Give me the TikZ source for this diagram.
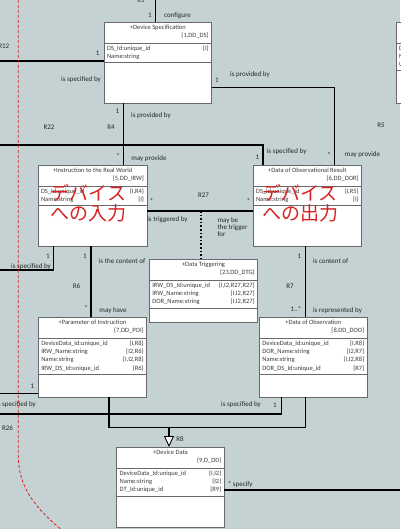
\documentclass[tikz,border=0pt]{standalone}
\usepackage{fontspec}
\setmainfont{Carlito}
\newfontfamily\jpfont{Noto Sans CJK JP}
\usetikzlibrary{calc,arrows.meta}
\definecolor{canvas}{RGB}{196,210,212}
\definecolor{boxline}{RGB}{105,105,105}
\definecolor{boxtext}{RGB}{60,60,60}
\definecolor{notered}{RGB}{215,35,35}
\newcommand{\ClassBox}[8]% #1=name, #2,#3=top left, #4=width, #5=height, #6=title, #7=id, #8=number of attributes
{\node[classbox, minimum width=#4pt, minimum height=#5pt] (#1) at (#2,#3) {};
    \node[boxfont] (#1-title) at ($(#1.north)+(0,6.3)$) {#6};
    \node[boxfont, anchor=east] (#1-id) at ($(#1.north east)+(-2.2,14.3)$) {#7};
    \draw[sepline] ($(#1.north west)+(0,21)$) -- ($(#1.north east)+(0,21)$);
    \draw[sepline] ($(#1.north west)+(0,24+#8*8.3)$) -- ($(#1.north east)+(0,24+#8*8.3)$);
}
\newcommand{\Attr}[4]% #1=box, #2=row, #3=attribute, #4=reference
{\node[boxfont, anchor=west] (#1-a#2) at ($(#1.north west)+(2.2,18.4+#2*8.3)$) {#3};
    \node[boxfont, anchor=east] (#1-r#2) at ($(#1.north east)+(-2.2,18.4+#2*8.3)$) {#4};
}
\begin{document}
\begin{tikzpicture}[x=1pt, y=-1pt, line width=1.6pt,
    classbox/.style={draw=boxline, line width=0.8pt, fill=white, anchor=north west, inner sep=0pt, outer sep=0pt},
    boxfont/.style={font=\fontsize{6.5}{7}\selectfont, text=boxtext, inner sep=0pt, text height=4.6pt, text depth=1.4pt},
    sepline/.style={draw=boxline, line width=0.8pt},
    lbl/.style={font=\fontsize{7}{7.3}\selectfont, text=black!85, inner sep=0pt},
    gentip/.style={-{Triangle[length=11pt, width=10pt, fill=white, line width=0.9pt]}},
    jpnote/.style={font=\jpfont\fontsize{19}{20}\selectfont, text=notered, align=center, inner sep=0pt},
    guide/.style={draw=notered, line width=0.8pt, dash pattern=on 3pt off 2pt}]
  \useasboundingbox (0,0) rectangle (400,529);
  \fill[canvas] (0,0) rectangle (400,529);
  % classes
  \ClassBox{dspec}{104}{22}{107.7}{81.3}{+Device Specification}{\{1,DD\_DS\}}{2}
  \Attr{dspec}{1}{DS\_Id:unique\_id}{\{I\}}
  \Attr{dspec}{2}{Name:string}{}
  \ClassBox{irw}{38}{165}{109}{81}{+Instruction to the Real World}{\{5,DD\_IRW\}}{2}
  \Attr{irw}{1}{DS\_Id:unique\_id}{\{I,R4\}}
  \Attr{irw}{2}{Name:string}{\{I\}}
  \ClassBox{dor}{253}{165}{108.7}{81}{+Data of Observational Result}{\{6,DD\_DOR\}}{2}
  \Attr{dor}{1}{DS\_Id:unique\_id}{\{I,R5\}}
  \Attr{dor}{2}{Name:string}{\{I\}}
  \ClassBox{dtg}{149.3}{259}{108.4}{63}{+Data Triggering}{\{23,DD\_DTG\}}{3}
  \Attr{dtg}{1}{IRW\_DS\_Id:unique\_id}{\{I,I2,R27,R27\}}
  \Attr{dtg}{2}{IRW\_Name:string}{\{I,I2,R27\}}
  \Attr{dtg}{3}{DOR\_Name:string}{\{I,I2,R27\}}
  \ClassBox{poi}{38.3}{317}{108.4}{80.3}{+Parameter of Instruction}{\{7,DD\_POI\}}{4}
  \Attr{poi}{1}{DeviceData\_Id:unique\_id}{\{I,R8\}}
  \Attr{poi}{2}{IRW\_Name:string}{\{I2,R6\}}
  \Attr{poi}{3}{Name:string}{\{I,I2,R8\}}
  \Attr{poi}{4}{IRW\_DS\_Id:unique\_id}{\{R6\}}
  \ClassBox{doo}{259.3}{317}{108}{80.3}{+Data of Observation}{\{8,DD\_DOO\}}{4}
  \Attr{doo}{1}{DeviceData\_Id:unique\_id}{\{I,R8\}}
  \Attr{doo}{2}{DOR\_Name:string}{\{I2,R7\}}
  \Attr{doo}{3}{Name:string}{\{I,I2,R8\}}
  \Attr{doo}{4}{DOR\_DS\_Id:unique\_id}{\{R7\}}
  \ClassBox{dd}{116.7}{447}{107.6}{80}{+Device Data}{\{9,D\_DD\}}{3}
  \Attr{dd}{1}{DeviceData\_Id:unique\_id}{\{I,I2\}}
  \Attr{dd}{2}{Name:string}{\{I2\}}
  \Attr{dd}{3}{DT\_Id:unique\_id}{\{R9\}}
  \ClassBox{rbox}{396}{22}{30}{81.3}{}{}{3}
  \Attr{rbox}{1}{D}{}
  \Attr{rbox}{2}{N}{}
  \Attr{rbox}{3}{U}{}
  % associations
  \coordinate (r1top) at (155.5,0);
  \draw (r1top) -- (r1top |- dspec.north);
  \coordinate (r12left) at (0,61);
  \draw (r12left) -- (r12left -| dspec.west);
  \coordinate (r5bend) at (334.3,87.5);
  \draw (r5bend -| dspec.east) -- (r5bend) -- (r5bend |- dor.north);
  \coordinate (r4x) at (123.3,0);
  \draw (r4x |- dspec.south) -- (r4x |- irw.north);
  \coordinate (r22left) at (0,145.3);
  \coordinate (r22bend) at (263,145.3);
  \draw (r22left) -- (r22bend) -- (r22bend |- dor.north);
  \coordinate (r27y) at (0,211);
  \draw (r27y -| irw.east) -- (r27y -| dor.west);
  \coordinate (r27mid) at (201,211);
  \draw[dotted] (r27mid) -- (r27mid |- dtg.north);
  \coordinate (irwspec) at (53.3,270);
  \coordinate (irwspecleft) at (0,270);
  \draw (irwspec |- irw.south) -- (irwspec) -- (irwspecleft);
  \coordinate (r6x) at (90.7,0);
  \draw (r6x |- irw.south) -- (r6x |- poi.north);
  \coordinate (r7x) at (305.5,0);
  \draw (r7x |- dor.south) -- (r7x |- doo.north);
  \coordinate (poileft) at (0,393.5);
  \draw (poileft) -- (poileft -| poi.west);
  \coordinate (r26left) at (0,414);
  \coordinate (r26bend) at (281.5,414);
  \draw (r26left) -- (r26bend) -- (r26bend |- doo.south);
  % generalisation
  \coordinate (r8left) at (109,427.3);
  \coordinate (r8right) at (305.5,427.3);
  \coordinate (r8mid) at (169,427.3);
  \draw (r8left |- poi.south) -- (r8left) -- (r8right) -- (r8right |- doo.south);
  \draw[gentip] (r8mid) -- (r8mid |- dd.north);
  \coordinate (specright) at (400,490);
  \draw (specright -| dd.east) -- (specright);
  % labels
  \node[lbl] (r1lbl) at (141,0) {R1};
  \node[lbl] (r1m) at (150,15) {1};
  \node[lbl] (r1role) at (177.5,15.7) {configure};
  \node[lbl, anchor=east] (r12lbl) at (10,46.7) {R12};
  \node[lbl] (r12m) at (97.7,53.3) {1};
  \node[lbl] (r12role) at (81,80) {is specified by};
  \node[lbl] (r5m) at (217,80) {1};
  \node[lbl] (r5role) at (250,75) {is provided by};
  \node[lbl] (r4m) at (117.3,111.7) {1};
  \node[lbl] (r4role) at (151,116) {is provided by};
  \node[lbl] (r22lbl) at (49,127.7) {R22};
  \node[lbl] (r4lbl) at (111,127.7) {R4};
  \node[lbl] (r5lbl) at (381,125.7) {R5};
  \node[lbl] (r4many) at (118,155.7) {*};
  \node[lbl] (r4role2) at (149,159) {may provide};
  \node[lbl] (r22role) at (286.7,151.7) {is specified by};
  \node[lbl] (r22m) at (257.3,157.3) {1};
  \node[lbl] (r5many) at (329,155) {*};
  \node[lbl] (r5role2) at (362.5,155) {may provide};
  \node[lbl] (r27lbl) at (203.5,195) {R27};
  \node[lbl] (r27many1) at (151.7,201) {*};
  \node[lbl] (r27many2) at (248.3,201) {*};
  \node[lbl] (r27role1) at (167.5,220) {is triggered by};
  \node[lbl, align=left, anchor=north west] (r27role2) at (216.7,216.5) {may be\\the trigger\\for};
  \node[lbl] (irwm) at (48,256.7) {1};
  \node[lbl, anchor=east] (irwrole) at (51.7,266.5) {is specified by};
  \node[lbl] (r6m) at (85,256.7) {1};
  \node[lbl] (r6role) at (122,260.7) {is the content of};
  \node[lbl] (r6lbl) at (76.5,286) {R6};
  \node[lbl] (r6many) at (86,307.7) {*};
  \node[lbl] (r6role2) at (113,310.7) {may have};
  \node[lbl] (r7m) at (299.3,256.7) {1};
  \node[lbl] (r7role) at (330.7,261) {is content of};
  \node[lbl] (r7lbl) at (290,286) {R7};
  \node[lbl] (r7many) at (296,309.5) {1..*};
  \node[lbl] (r7role2) at (337.5,310.7) {is represented by};
  \node[lbl] (poim) at (32.3,386.7) {1};
  \node[lbl, anchor=east] (poirole) at (36.7,404.3) {is specified by};
  \node[lbl] (r26lbl) at (7.5,428.3) {R26};
  \node[lbl] (r26role) at (241,404.3) {is specified by};
  \node[lbl] (r26m) at (275,405.7) {1};
  \node[lbl] (r8lbl) at (180,439.3) {R8};
  \node[lbl, anchor=west] (specrole) at (227,484.3) {* specify};
  % handwritten notes
  \node[jpnote] (irwnote) at (88.5,203) {デバイス\\への入力};
  \node[jpnote] (dornote) at (300,203) {デバイス\\への出力};
  \draw[guide] (18.3,0) -- (18.3,455) .. controls (18.3,490) and (38,510) .. (64,532);
\end{tikzpicture}
\end{document}
